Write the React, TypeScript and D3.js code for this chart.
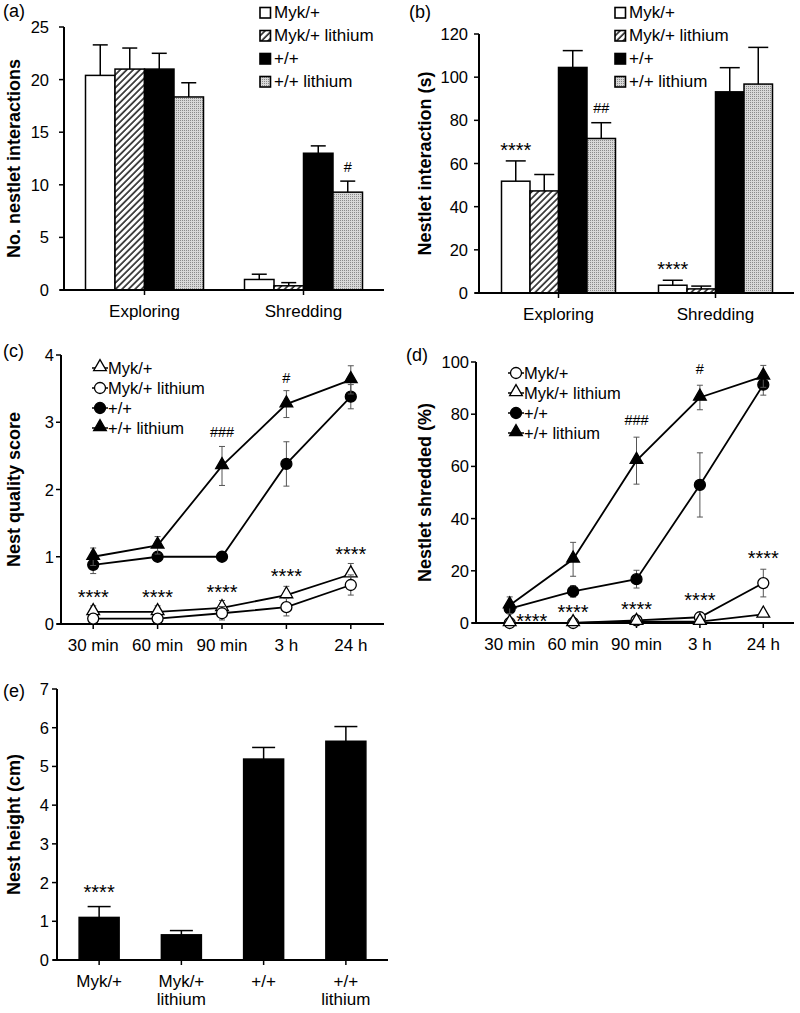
import * as d3 from "d3";

const FONT = "'Liberation Sans', Arial, Helvetica, sans-serif";

// ---- panels (a) and (b): nestlet interactions ----
const barSeries = ["Myk/+", "Myk/+ lithium", "+/+", "+/+ lithium"];
const behaviours = ["Exploring", "Shredding"];
const aMeans = [[20.4, 21.0, 21.0, 18.35], [1.0, 0.4, 13.0, 9.3]];
const aErrs = [[2.9, 2.0, 1.5, 1.35], [0.5, 0.3, 0.7, 1.05]];
const bMeans = [[51.8, 47.3, 104.5, 71.6], [3.6, 1.9, 93.2, 96.8]];
const bErrs = [[9.4, 7.6, 7.8, 7.3], [2.3, 1.3, 11.2, 17.0]];

// ---- panels (c) and (d): time course ----
const times = ["30 min", "60 min", "90 min", "3 h", "24 h"];
const cNames = ["Myk/+", "Myk/+ lithium", "+/+", "+/+ lithium"];
const cMyk = [0.18, 0.18, 0.24, 0.43, 0.74];
const cMykErr = [0.09, 0.09, 0.11, 0.13, 0.16];
const cMykLi = [0.08, 0.08, 0.16, 0.25, 0.58];
const cMykLiErr = [0.05, 0.05, 0.1, 0.13, 0.15];
const cWt = [0.88, 1.0, 1.0, 2.38, 3.38];
const cWtErr = [0.13, 0, 0, 0.33, 0.18];
const cWtLi = [1.0, 1.17, 2.35, 3.27, 3.63];
const cWtLiErr = [0.13, 0.13, 0.29, 0.2, 0.21];

const dNames = ["Myk/+", "Myk/+ lithium", "+/+", "+/+ lithium"];
const dMyk = [0, 0, 1.0, 2.2, 15.3];
const dMykErr = [0, 0, 0.5, 0.8, 5.3];
const dMykLi = [0, 0, 0.5, 0.5, 3.3];
const dMykLiErr = [0, 0, 0.3, 0.3, 0.8];
const dWt = [5.5, 12.1, 16.8, 52.9, 91.3];
const dWtErr = [1.5, 2.2, 3.4, 12.3, 4.0];
const dWtLi = [6.8, 24.4, 62.2, 86.4, 94.5];
const dWtLiErr = [3.2, 6.5, 9.0, 4.7, 4.2];

// ---- panel (e): nest height ----
const eGroups = ["Myk/+", "Myk/+\nlithium", "+/+", "+/+\nlithium"];
const eMeans = [1.1, 0.65, 5.19, 5.65];
const eErrs = [0.28, 0.11, 0.3, 0.38];

// significance marks: group / series index, y value (data units), text
const aNotes = [{ g: 1, s: 3, v: 11.7, t: "#" }];
const bNotes = [
  { g: 0, s: 0, v: 68, t: "****" },
  { g: 0, s: 3, v: 85.7, t: "##" },
  { g: 1, s: 0, v: 13, t: "****" },
];
const cNotes = [
  { i: 0, v: 0.46, t: "****", dx: 0 },
  { i: 1, v: 0.46, t: "****", dx: 0 },
  { i: 2, v: 0.54, t: "****", dx: 0 },
  { i: 3, v: 0.77, t: "****", dx: 0 },
  { i: 4, v: 1.1, t: "****", dx: 0 },
  { i: 2, v: 2.85, t: "###", dx: 0 },
  { i: 3, v: 3.66, t: "#", dx: 0 },
];
const dNotes = [
  { i: 0, v: 2.3, t: "****", dx: 22 },
  { i: 1, v: 5.7, t: "****", dx: 0 },
  { i: 2, v: 6.9, t: "****", dx: 0 },
  { i: 3, v: 10.3, t: "****", dx: 0 },
  { i: 4, v: 26.4, t: "****", dx: 0 },
  { i: 2, v: 77.8, t: "###", dx: 0 },
  { i: 3, v: 97.3, t: "#", dx: 0 },
];
const eNotes = [{ g: 0, s: 0, v: 1.86, t: "****" }];

const barFills = ["white", "url(#hatch)", "black", "url(#dots)"];

function noteBaseline(t: string) {
  // shift from glyph centre to baseline
  return t.startsWith("*") ? { size: 20, dy: 11 } : { size: 14.5, dy: 5 };
}

function YAxis({ y, ticks, axisX, labelGap, label, labelX }: any) {
  const [r0, r1] = y.range();
  return (
    <g>
      <line x1={axisX} x2={axisX} y1={r0 + 1} y2={r1} stroke="black" strokeWidth={2} />
      {ticks.map((t: number) => (
        <g key={t}>
          <line x1={axisX - 5} x2={axisX} y1={y(t)} y2={y(t)} stroke="black" strokeWidth={1.5} />
          <text x={axisX - labelGap} y={y(t) + 6} textAnchor="end" fontSize={16.5}>
            {t}
          </text>
        </g>
      ))}
      <text
        transform={`translate(${labelX},${(r0 + r1) / 2}) rotate(-90)`}
        textAnchor="middle"
        fontSize={18}
        fontWeight="bold"
      >
        {label}
      </text>
    </g>
  );
}

function BarPanel(p: any) {
  const y = d3.scaleLinear().domain([0, p.yMax]).range(p.yRange);
  const x = d3.scaleBand().domain(p.groups).range(p.xRange);
  const n = p.means[0].length;
  const ticks = d3.range(0, p.yMax + p.yStep / 2, p.yStep);
  const barX = (g: number, s: number) =>
    (x(p.groups[g]) as number) + x.bandwidth() / 2 + (s - (n - 1) / 2) * p.barW;
  return (
    <g>
      {p.means.map((row: number[], g: number) =>
        row.map((v: number, s: number) => {
          const cx = barX(g, s);
          const top = y(v + p.errs[g][s]);
          return (
            <g key={`${g}-${s}`}>
              <line x1={cx} x2={cx} y1={y(v)} y2={top} stroke="black" strokeWidth={1.5} />
              <line x1={cx - p.capW / 2} x2={cx + p.capW / 2} y1={top} y2={top} stroke="black" strokeWidth={1.5} />
              <rect
                x={cx - p.barW / 2}
                y={y(v)}
                width={p.barW}
                height={y(0) - y(v)}
                fill={p.fills[s]}
                stroke="black"
                strokeWidth={1.5}
              />
            </g>
          );
        })
      )}
      <line x1={p.axisX - 4} x2={p.axisEnd} y1={y(0)} y2={y(0)} stroke="black" strokeWidth={2} />
      {p.groups.map((g: string) => {
        const cx = (x(g) as number) + x.bandwidth() / 2;
        return (
          <g key={g}>
            <line x1={cx} x2={cx} y1={y(0)} y2={y(0) + 5} stroke="black" strokeWidth={1.5} />
            {g.split("\n").map((line, li) => (
              <text key={li} x={cx} y={y(0) + 27 + li * 18} textAnchor="middle" fontSize={17}>
                {line}
              </text>
            ))}
          </g>
        );
      })}
      <YAxis y={y} ticks={ticks} axisX={p.axisX} labelGap={p.labelGap} label={p.yLabel} labelX={p.yLabelX} />
      {p.notes.map((nt: any, i: number) => {
        const b = noteBaseline(nt.t);
        return (
          <text key={i} x={barX(nt.g, nt.s)} y={y(nt.v) + b.dy} textAnchor="middle" fontSize={b.size}>
            {nt.t}
          </text>
        );
      })}
      {p.legend && (
        <g>
          {p.legend.names.map((name: string, i: number) => (
            <g key={name} transform={`translate(${p.legend.x},${p.legend.y + i * 23})`}>
              <rect x={0} y={-10.5} width={10.5} height={10.5} fill={p.fills[i]} stroke="black" strokeWidth={1.6} />
              <text x={14} y={0} fontSize={17}>
                {name}
              </text>
            </g>
          ))}
        </g>
      )}
      <text x={p.panelX} y={p.panelY} fontSize={18}>
        {p.panel}
      </text>
    </g>
  );
}

function Marker({ kind, cx, cy }: any) {
  const filled = !kind.endsWith("open");
  const tri = kind.startsWith("triangle");
  const path = d3.symbol(tri ? d3.symbolTriangle : d3.symbolCircle, tri ? 70 : 95)() as string;
  return (
    <path
      d={path}
      transform={`translate(${cx},${cy + (tri ? -1 : 0)})`}
      fill={filled ? "black" : "white"}
      stroke="black"
      strokeWidth={1.3}
    />
  );
}

function LinePanel(p: any) {
  const y = d3.scaleLinear().domain([0, p.yMax]).range(p.yRange);
  const x = d3.scalePoint().domain(times).range(p.xRange).padding(0.5);
  const ticks = d3.range(0, p.yMax + p.yStep / 2, p.yStep);
  const line = d3
    .line<number>()
    .x((_, i) => x(times[i]) as number)
    .y((d) => y(d));
  return (
    <g>
      <line x1={p.axisX - 4} x2={p.axisEnd} y1={y(0)} y2={y(0)} stroke="black" strokeWidth={2} />
      {times.map((t) => (
        <g key={t}>
          <line x1={x(t)} x2={x(t)} y1={y(0)} y2={y(0) + 5} stroke="black" strokeWidth={1.5} />
          <text x={x(t)} y={y(0) + 27} textAnchor="middle" fontSize={17}>
            {t}
          </text>
        </g>
      ))}
      <YAxis y={y} ticks={ticks} axisX={p.axisX} labelGap={p.labelGap} label={p.yLabel} labelX={p.yLabelX} />
      {p.series.map((vals: number[], si: number) => (
        <g key={si}>
          {vals.map((v, i) => {
            const e = p.errs[si][i];
            if (!e) return null;
            const cx = x(times[i]) as number;
            return (
              <g key={i} stroke="#555" strokeWidth={1}>
                <line x1={cx} x2={cx} y1={y(v - e)} y2={y(v + e)} />
                <line x1={cx - 3} x2={cx + 3} y1={y(v - e)} y2={y(v - e)} />
                <line x1={cx - 3} x2={cx + 3} y1={y(v + e)} y2={y(v + e)} />
              </g>
            );
          })}
          <path d={line(vals) as string} fill="none" stroke="black" strokeWidth={1.8} />
          {vals.map((v, i) => (
            <Marker key={i} kind={p.markers[si]} cx={x(times[i])} cy={y(v)} />
          ))}
        </g>
      ))}
      {p.notes.map((nt: any, i: number) => {
        const b = noteBaseline(nt.t);
        return (
          <text key={i} x={(x(times[nt.i]) as number) + nt.dx} y={y(nt.v) + b.dy} textAnchor="middle" fontSize={b.size}>
            {nt.t}
          </text>
        );
      })}
      {p.names.map((name: string, i: number) => (
        <g key={name} transform={`translate(${p.legend.x},${p.legend.y + i * 20})`}>
          <line x1={-8} x2={8} y1={0} y2={0} stroke="black" strokeWidth={1.5} />
          <Marker kind={p.markers[i]} cx={0} cy={0} />
          <text x={8} y={6} fontSize={16.5}>
            {name}
          </text>
        </g>
      ))}
      <text x={p.panelX} y={p.panelY} fontSize={18}>
        {p.panel}
      </text>
    </g>
  );
}

export default function App() {
  return (
    <svg
      width={800}
      height={1013}
      style={{ position: "absolute", left: 0, top: 0, background: "white" }}
      fontFamily={FONT}
    >
      <defs>
        <pattern id="hatch" patternUnits="userSpaceOnUse" width={4.6} height={4.6} patternTransform="rotate(45)">
          <rect width={4.6} height={4.6} fill="white" />
          <line x1={1} x2={1} y1={0} y2={4.6} stroke="#222" strokeWidth={1.6} />
        </pattern>
        <pattern id="dots" patternUnits="userSpaceOnUse" width={2} height={2}>
          <rect width={2} height={2} fill="#d8d8d8" />
          <rect width={1} height={1} fill="#8a8a8a" />
        </pattern>
      </defs>

      <BarPanel
        groups={behaviours}
        means={aMeans}
        errs={aErrs}
        fills={barFills}
        yMax={25}
        yStep={5}
        yRange={[290, 27]}
        xRange={[65, 383]}
        axisX={64}
        axisEnd={384}
        barW={29.5}
        capW={15}
        labelGap={15}
        yLabel="No. nestlet interactions"
        yLabelX={20}
        notes={aNotes}
        legend={{ names: barSeries, x: 260, y: 18 }}
        panel="(a)"
        panelX={3}
        panelY={17}
      />
      <BarPanel
        groups={behaviours}
        means={bMeans}
        errs={bErrs}
        fills={barFills}
        yMax={120}
        yStep={20}
        yRange={[293, 34]}
        xRange={[480, 794]}
        axisX={479}
        axisEnd={794}
        barW={28.5}
        capW={20}
        labelGap={11}
        yLabel="Nestlet interaction (s)"
        yLabelX={431}
        notes={bNotes}
        legend={{ names: barSeries, x: 615, y: 18 }}
        panel="(b)"
        panelX={409}
        panelY={18}
      />
      <LinePanel
        names={cNames}
        series={[cMyk, cMykLi, cWt, cWtLi]}
        errs={[cMykErr, cMykLiErr, cWtErr, cWtLiErr]}
        markers={["triangle-open", "circle-open", "circle", "triangle"]}
        yMax={4}
        yStep={1}
        yRange={[624, 355]}
        xRange={[61, 383]}
        axisX={61}
        axisEnd={384}
        labelGap={7}
        yLabel="Nest quality score"
        yLabelX={20}
        notes={cNotes}
        legend={{ x: 100, y: 368 }}
        panel="(c)"
        panelX={3}
        panelY={357}
      />
      <LinePanel
        names={dNames}
        series={[dMyk, dMykLi, dWt, dWtLi]}
        errs={[dMykErr, dMykLiErr, dWtErr, dWtLiErr]}
        markers={["circle-open", "triangle-open", "circle", "triangle"]}
        yMax={100}
        yStep={20}
        yRange={[623, 362]}
        xRange={[478, 795]}
        axisX={476}
        axisEnd={794}
        labelGap={7}
        yLabel="Nestlet shredded (%)"
        yLabelX={431}
        notes={dNotes}
        legend={{ x: 516, y: 373 }}
        panel="(d)"
        panelX={406}
        panelY={361}
      />
      <BarPanel
        groups={eGroups}
        means={eMeans.map((v) => [v])}
        errs={eErrs.map((v) => [v])}
        fills={["black"]}
        yMax={7}
        yStep={1}
        yRange={[960, 689]}
        xRange={[58, 387]}
        axisX={57}
        axisEnd={388}
        barW={40}
        capW={23}
        labelGap={8}
        yLabel="Nest height (cm)"
        yLabelX={20}
        notes={eNotes}
        panel="(e)"
        panelX={3}
        panelY={697}
      />
    </svg>
  );
}
